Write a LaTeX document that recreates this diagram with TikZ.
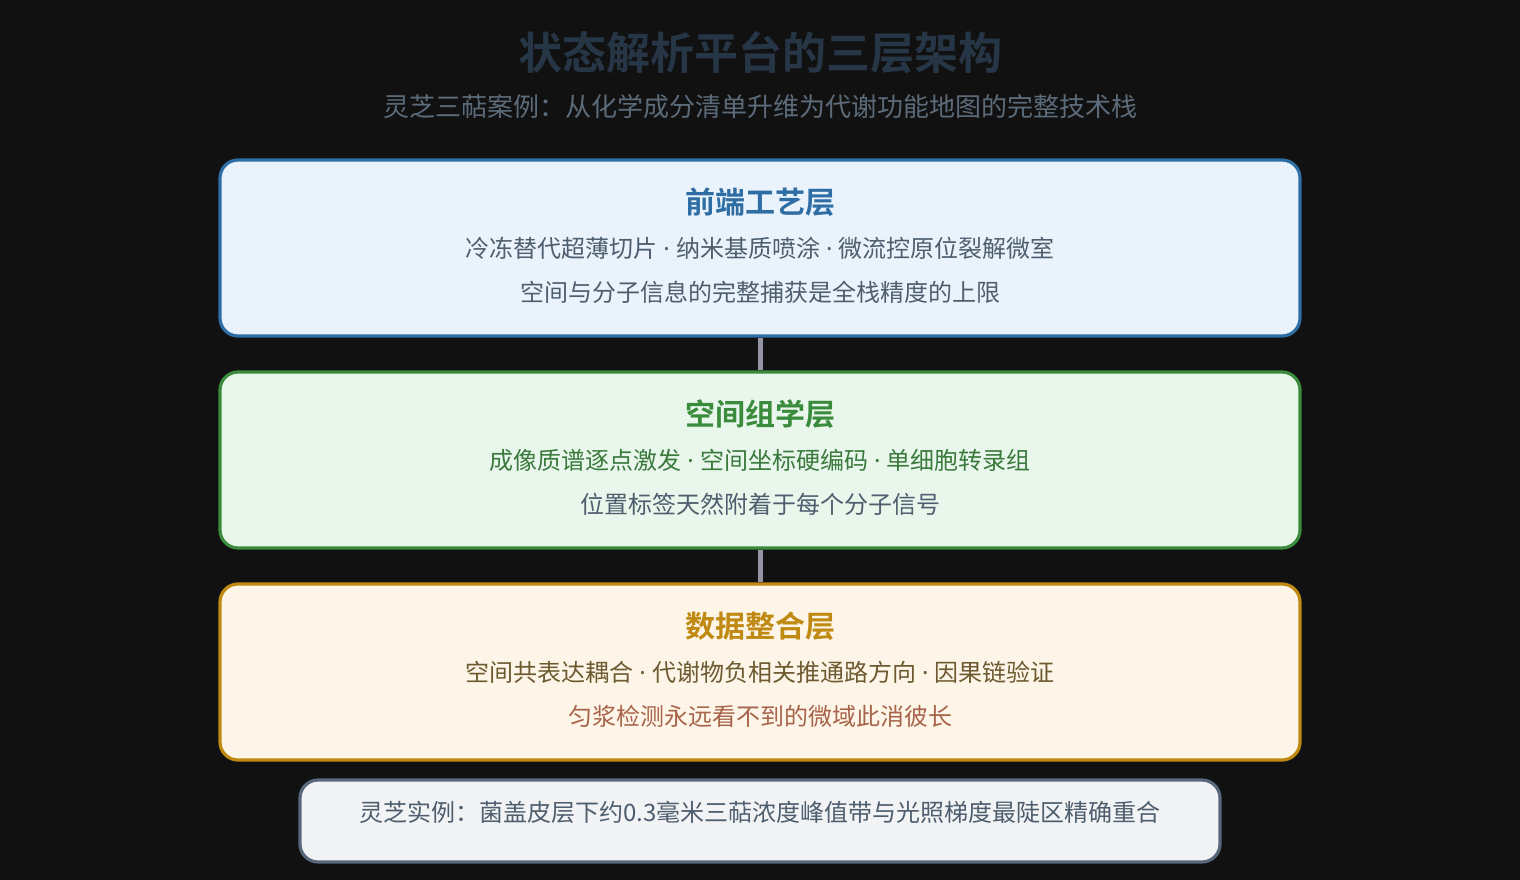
\documentclass[tikz,border=0pt]{standalone}
\usepackage{fontspec}
\setmainfont{Noto Sans CJK SC}
\newfontfamily\cjkbold{Noto Sans CJK SC Bold}
\newfontfamily\latinf{Noto Sans}
\newcommand{\sepdot}{{\latinf\ ·\ }}
\begin{document}
\begin{tikzpicture}[x=1pt,y=-1pt]
\definecolor{bgc}{HTML}{111111}
\definecolor{titlec}{HTML}{263646}
\definecolor{subc}{HTML}{5C6B7A}
\definecolor{bluec}{HTML}{2F6DA5}
\definecolor{bluefill}{HTML}{EAF3FB}
\definecolor{greenc}{HTML}{3A8C3C}
\definecolor{greenfill}{HTML}{E9F6EC}
\definecolor{greentext}{HTML}{3A7A3C}
\definecolor{goldc}{HTML}{C08A12}
\definecolor{goldfill}{HTML}{FDF5E8}
\definecolor{browntext}{HTML}{6E5A30}
\definecolor{redtext}{HTML}{A8644A}
\definecolor{grayborder}{HTML}{56687A}
\definecolor{grayfill}{HTML}{F1F3F5}
\definecolor{bodyc}{HTML}{4E5E6E}
\definecolor{linkc}{HTML}{9494A4}
\tikzset{
  layerbox/.style={rounded corners=18pt, line width=3.2pt, minimum width=1080pt, minimum height=176pt, inner sep=0pt},
  notebox/.style={rounded corners=18pt, line width=3.2pt, minimum width=920pt, minimum height=82pt, inner sep=0pt},
  ltitle/.style={font=\cjkbold\fontsize{30}{34}\selectfont, anchor=center, inner sep=0pt},
  lbody/.style={font=\fontsize{24}{28}\selectfont, anchor=center, inner sep=0pt},
  link/.style={draw=linkc, line width=5pt}
}
\fill[bgc] (0,0) rectangle (1520,880);
\useasboundingbox (0,0) rectangle (1520,880);
\node[font=\cjkbold\fontsize{44}{50}\selectfont, text=titlec, inner sep=0pt] (title) at (760,53) {状态解析平台的三层架构};
\node[font=\fontsize{26}{30}\selectfont, text=subc, inner sep=0pt] (sub) at (760,107) {灵芝三萜案例：从化学成分清单升维为代谢功能地图的完整技术栈};

\node[layerbox, draw=bluec, fill=bluefill] (b1) at (760,248) {};
\node[layerbox, draw=greenc, fill=greenfill] (b2) at (760,460) {};
\node[layerbox, draw=goldc, fill=goldfill] (b3) at (760,672) {};
\node[notebox, draw=grayborder, fill=grayfill] (b4) at (760,821) {};

\draw[link] (b1.south) -- (b2.north);
\draw[link] (b2.south) -- (b3.north);

\node[ltitle, text=bluec] (t1) at (760,202) {前端工艺层};
\node[lbody, text=bodyc] (l11) at (760,248) {冷冻替代超薄切片\sepdot 纳米基质喷涂\sepdot 微流控原位裂解微室};
\node[lbody, text=bodyc] (l12) at (760,292) {空间与分子信息的完整捕获是全栈精度的上限};

\node[ltitle, text=greenc] (t2) at (760,414) {空间组学层};
\node[lbody, text=greentext] (l21) at (760,460) {成像质谱逐点激发\sepdot 空间坐标硬编码\sepdot 单细胞转录组};
\node[lbody, text=bodyc] (l22) at (760,504) {位置标签天然附着于每个分子信号};

\node[ltitle, text=goldc] (t3) at (760,626) {数据整合层};
\node[lbody, text=browntext] (l31) at (760,672) {空间共表达耦合\sepdot 代谢物负相关推通路方向\sepdot 因果链验证};
\node[lbody, text=redtext] (l32) at (760,716) {匀浆检测永远看不到的微域此消彼长};

\node[lbody, text=bodyc] (l41) at (760,812) {灵芝实例：菌盖皮层下约0.3毫米三萜浓度峰值带与光照梯度最陡区精确重合};
\end{tikzpicture}
\end{document}
